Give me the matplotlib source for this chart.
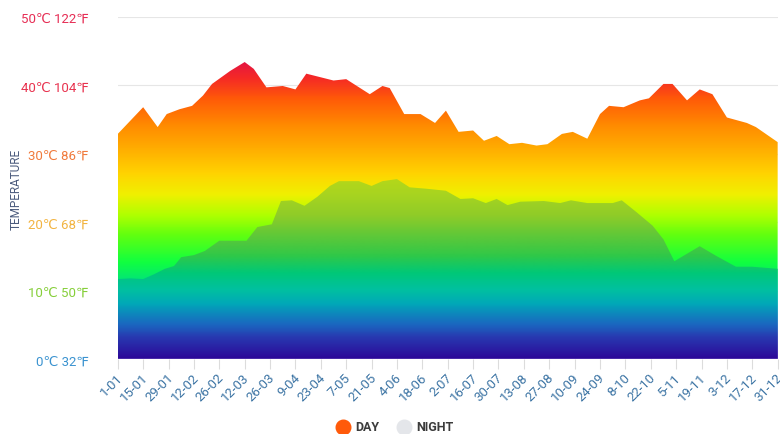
import numpy as np
import matplotlib
matplotlib.use('Agg')
import matplotlib.pyplot as plt
from matplotlib.colors import LinearSegmentedColormap
from matplotlib.patches import Polygon
from matplotlib.lines import Line2D
from matplotlib.transforms import ScaledTranslation

plt.rcParams['font.family'] = ['Roboto', 'DejaVu Sans']

# day-of-year positions and temperatures (°C)
day_days = [0, 14, 22, 27, 34, 41, 47, 52, 62, 70, 75, 82, 91, 98, 104, 119, 126,
            139, 146, 150, 158, 167, 175, 181, 188, 196, 202, 209, 216, 223, 231,
            237, 245, 251, 259, 266, 271, 279, 288, 293, 301, 306, 314, 321, 328,
            336, 347, 352, 364]
day_temp = [32.9, 36.8, 33.9, 35.8, 36.5, 37.0, 38.5, 40.2, 42.1, 43.4, 42.4, 39.7,
            39.9, 39.4, 41.7, 40.7, 40.9, 38.7, 39.9, 39.6, 35.8, 35.8, 34.5, 36.3,
            33.2, 33.4, 31.9, 32.6, 31.4, 31.6, 31.2, 31.4, 32.9, 33.2, 32.2, 35.8,
            37.0, 36.8, 37.8, 38.1, 40.2, 40.2, 37.8, 39.4, 38.7, 35.3, 34.5, 33.9,
            31.7]

night_days = [0, 7, 14, 20, 26, 31, 35, 42, 48, 56, 71, 77, 85, 90, 96, 103, 110,
              117, 122, 133, 140, 146, 154, 161, 170, 181, 189, 196, 203, 209, 215,
              222, 235, 244, 250, 259, 273, 278, 286, 295, 301, 307, 314, 321, 330,
              341, 350, 364]
night_temp = [11.7, 11.8, 11.7, 12.4, 13.2, 13.6, 14.9, 15.2, 15.8, 17.3, 17.3, 19.3,
              19.7, 23.1, 23.2, 22.4, 23.7, 25.3, 26.0, 26.0, 25.3, 26.0, 26.3, 25.1,
              24.9, 24.6, 23.4, 23.5, 22.8, 23.4, 22.5, 23.0, 23.1, 22.8, 23.2, 22.8,
              22.8, 23.2, 21.5, 19.5, 17.5, 14.3, 15.4, 16.5, 15.1, 13.5, 13.5, 13.2]

tick_days = list(range(0, 365, 14))
tick_labels = ['1-01', '15-01', '29-01', '12-02', '26-02', '12-03', '26-03', '9-04',
               '23-04', '7-05', '21-05', '4-06', '18-06', '2-07', '16-07', '30-07',
               '13-08', '27-08', '10-09', '24-09', '8-10', '22-10', '5-11', '19-11',
               '3-12', '17-12', '31-12']
y_ticks = [0, 10, 20, 30, 40, 50]
y_labels = ['0℃ 32℉', '10℃ 50℉', '20℃ 68℉', '30℃ 86℉', '40℃ 104℉', '50℃ 122℉']
y_colors = ['#3b93d0', '#86cf3a', '#f2b441', '#f07a3c', '#e8334f', '#e62e55']

day_cmap = LinearSegmentedColormap.from_list('day', [
    (0.0, '#2a0a9a'), (0.06, '#2a3cb0'), (0.1, '#1a70c0'), (0.16, '#00b0b8'),
    (0.22, '#00e080'), (0.28, '#10ff40'), (0.36, '#60ff10'), (0.42, '#b0ff00'),
    (0.48, '#f0f000'), (0.54, '#ffd400'), (0.6, '#ffb400'), (0.68, '#ff8c00'),
    (0.76, '#ff5a08'), (0.82, '#f52a25'), (0.88, '#e0104a'), (1.0, '#c00050')])
night_cmap = LinearSegmentedColormap.from_list('night', [
    (0.0, '#2c0898'), (0.06, '#2838b0'), (0.1, '#1a68c0'), (0.16, '#00a8b8'),
    (0.2, '#00c0a0'), (0.25, '#00c878'), (0.3, '#30c848'), (0.36, '#60c838'),
    (0.42, '#90cc28'), (0.48, '#a8d420'), (0.54, '#b8d818'), (1.0, '#c8dc10')])

fig = plt.figure(figsize=(7.8, 4.35), dpi=100)
ax = fig.add_axes([0.151, 0.172, 0.846, 0.787])
ax.set_xlim(0, 364)
ax.set_ylim(0, 50)

grad = np.linspace(0, 1, 500).reshape(-1, 1)


def gradient_area(xs, ys, cmap, z):
    verts = [(xs[0], 0)] + list(zip(xs, ys)) + [(xs[-1], 0)]
    poly = Polygon(verts, closed=True, facecolor='none', edgecolor='none')
    ax.add_patch(poly)
    im = ax.imshow(grad, cmap=cmap, origin='lower', aspect='auto',
                   extent=[0, 364, 0, 50], zorder=z, interpolation='bilinear')
    im.set_clip_path(poly)


gradient_area(day_days, day_temp, day_cmap, 2)
gradient_area(night_days, night_temp, night_cmap, 3)

for yv in y_ticks[1:]:
    ax.axhline(yv, color='#e6e6e6', lw=0.8, zorder=1)
ax.axhline(0, color='#c8c4e8', lw=1.0, zorder=4)

for s in ax.spines.values():
    s.set_visible(False)

ax.set_yticks(y_ticks)
ax.set_yticklabels(y_labels, fontsize=9.5)
for lab, c in zip(ax.get_yticklabels(), y_colors):
    lab.set_color(c)
ax.tick_params(axis='y', length=0, pad=21)

ax.set_xticks(tick_days)
ax.set_xticklabels(tick_labels, rotation=45, ha='right', va='top',
                   rotation_mode='anchor', fontsize=9.5, color='#3c74a4')
ax.tick_params(axis='x', length=7, color='#dcdcdc', width=0.8, pad=1)
shift = ScaledTranslation(-2 / 100, 0, fig.dpi_scale_trans)
for lab in ax.get_xticklabels():
    lab.set_transform(lab.get_transform() + shift)

fig.text(0.021, 0.565, 'TEMPERATURE', rotation=90, ha='center', va='center',
         fontsize=8.5, color='#4a5a7c')

# legend
ly = 1 - 428 / 435
fig.add_artist(Line2D([343 / 780], [ly], marker='o', markersize=10.5,
                      color='#ff5a0a', transform=fig.transFigure, lw=0))
fig.text(355 / 780, ly, 'DAY', ha='left', va='center', fontsize=9,
         fontweight='bold', color='#3c3c3c')
fig.add_artist(Line2D([404 / 780], [ly], marker='o', markersize=10.5,
                      color='#e4e6ea', transform=fig.transFigure, lw=0))
fig.text(416 / 780, ly, 'NIGHT', ha='left', va='center', fontsize=9,
         fontweight='bold', color='#3c3c3c')

fig.savefig('out.png', dpi=100)
